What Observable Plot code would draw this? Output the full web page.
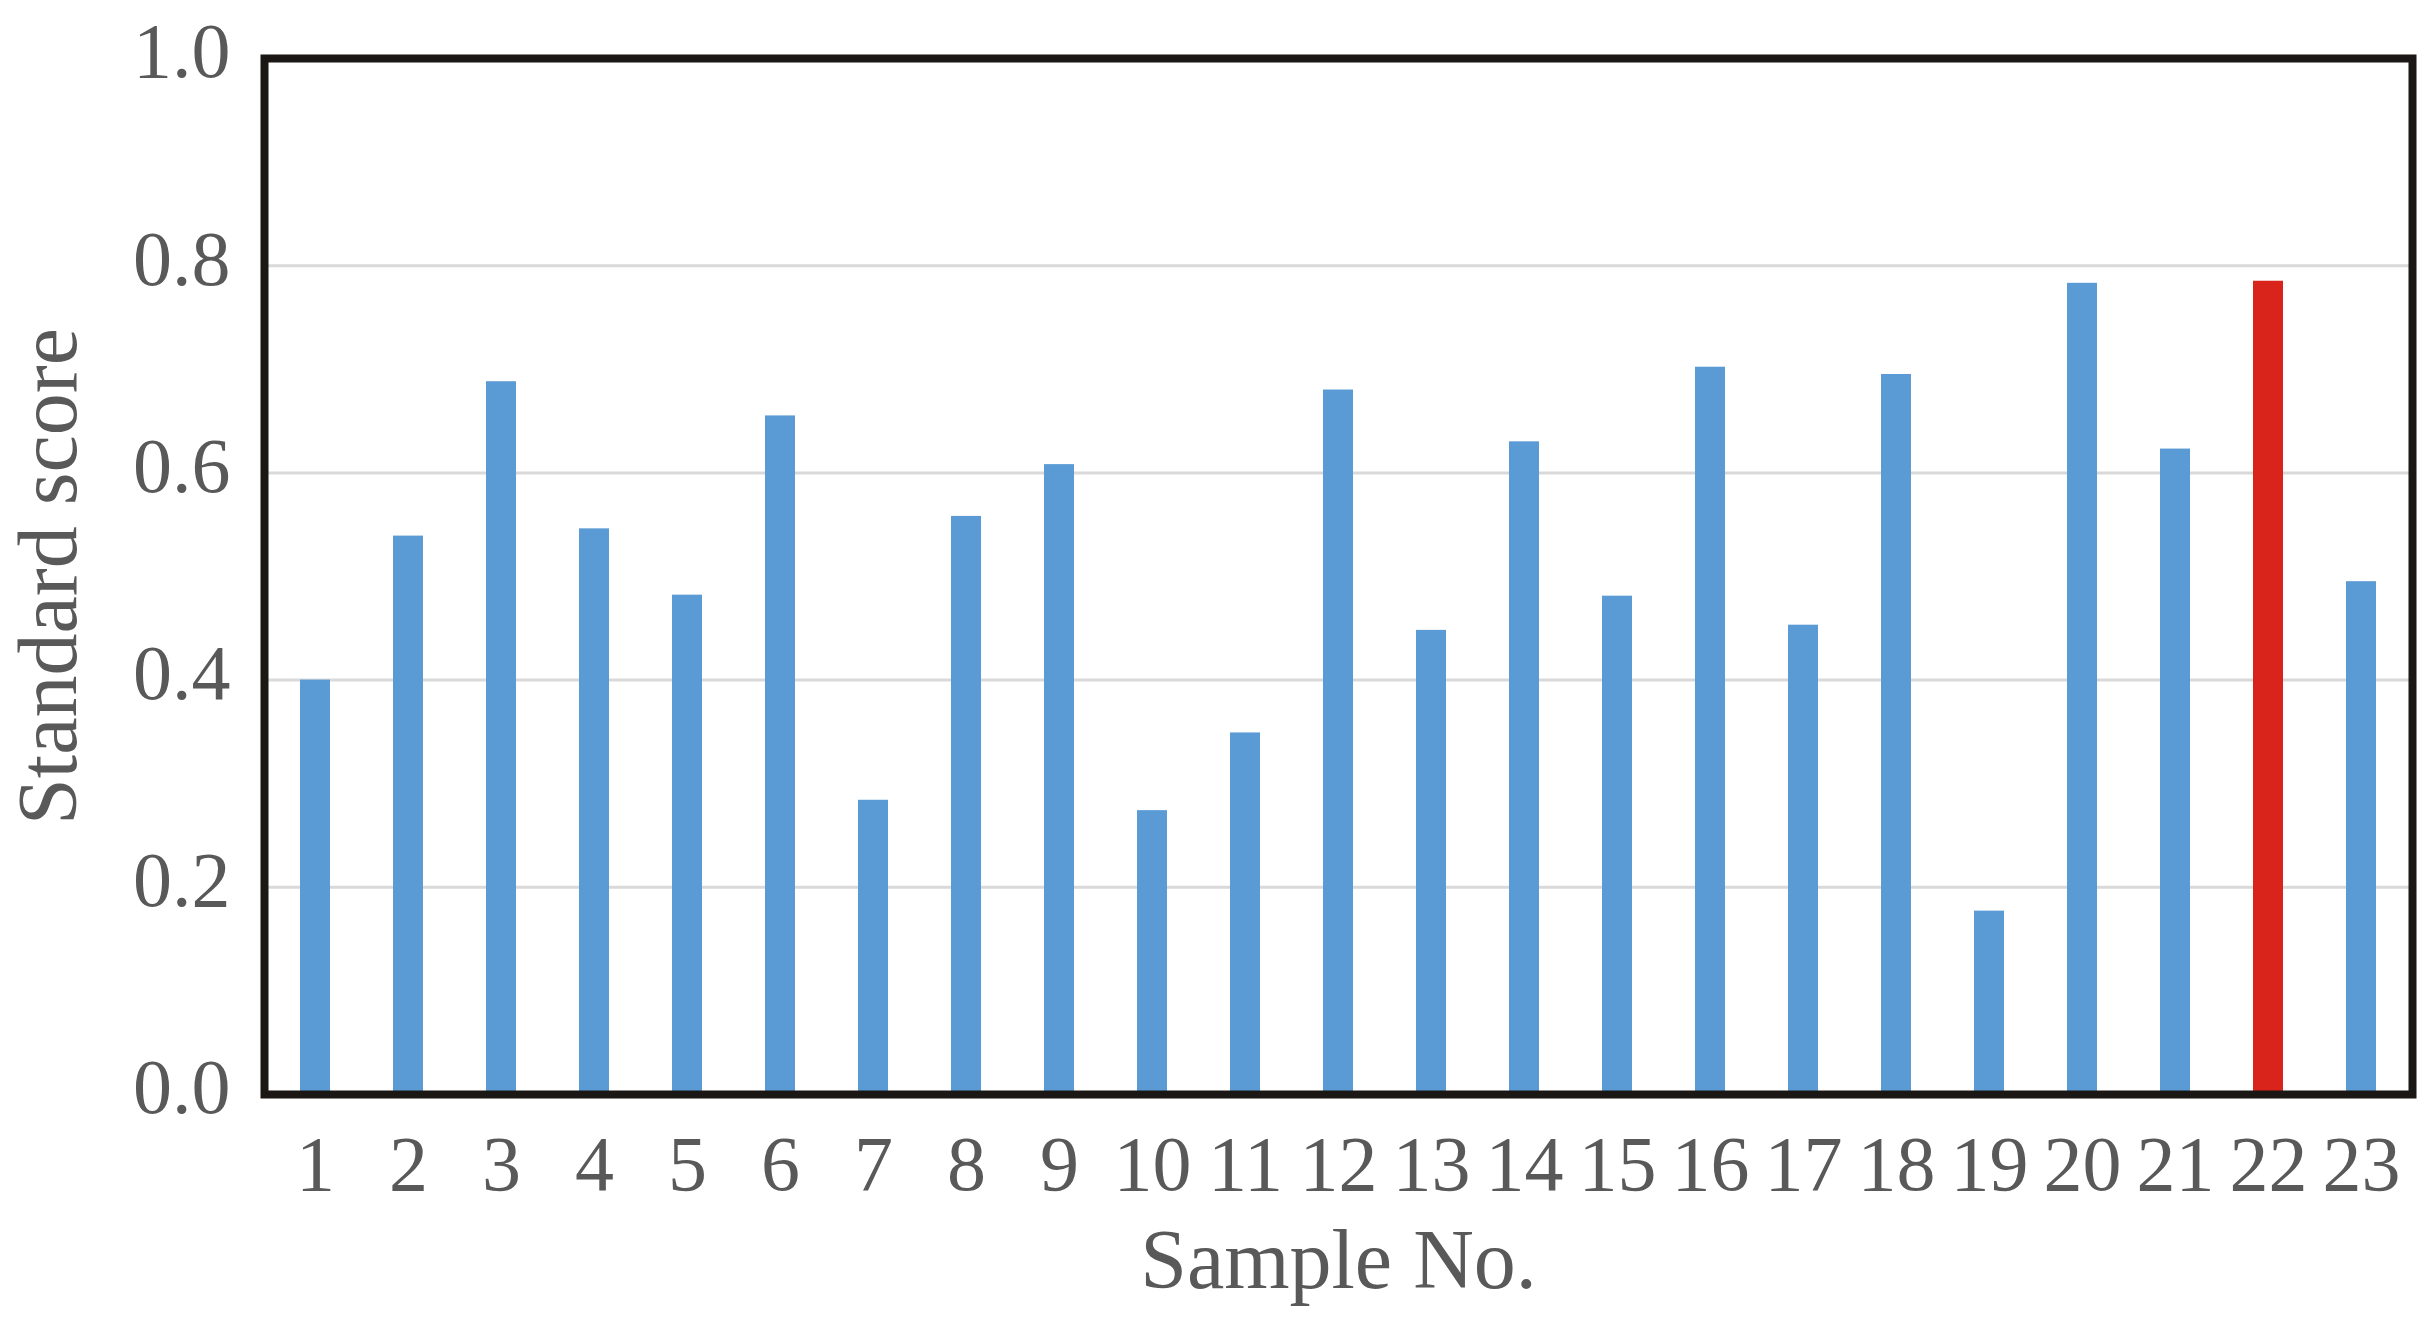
<!DOCTYPE html>
<html>
<head>
<meta charset="utf-8">
<script src="https://cdn.jsdelivr.net/npm/d3@7"></script>
<script src="https://cdn.jsdelivr.net/npm/@observablehq/plot@0.6"></script>
<style>
  html, body { margin: 0; padding: 0; background: #ffffff; }
  #chart svg { display: block; }
</style>
</head>
<body>
<div id="chart"></div>
<script>
// Data
const samples = [1, 2, 3, 4, 5, 6, 7, 8, 9, 10, 11, 12, 13, 14, 15, 16, 17, 18, 19, 20, 21, 22, 23];
const scores = [0.400, 0.539, 0.688, 0.546, 0.482, 0.655, 0.284, 0.558, 0.608, 0.274, 0.349, 0.680,
                0.448, 0.630, 0.481, 0.702, 0.453, 0.695, 0.177, 0.783, 0.623, 0.785, 0.495];
const highlighted = 22;
const yTicks = [0, 0.2, 0.4, 0.6, 0.8, 1.0];
const gridTicks = [0.2, 0.4, 0.6, 0.8];
const xTitle = "Sample No.";
const yTitle = "Standard score";

const data = samples.map((s, i) => ({sample: s, score: scores[i]}));

const textColor = "#595959";
const barBlue = "#5b9bd5";
const barRed = "#d8241b";
const font = "'Liberation Serif', 'Times New Roman', serif";

const chart = Plot.plot({
  width: 2433,
  height: 1324,
  marginLeft: 264,
  marginRight: 21,
  marginTop: 58,
  marginBottom: 230,
  style: {fontFamily: font, color: textColor, background: "#ffffff"},
  x: {type: "band", domain: samples, paddingInner: 0.68, paddingOuter: 0.34, label: null},
  y: {domain: [0, 1], label: null},
  color: {type: "identity"},
  marks: [
    Plot.gridY(gridTicks, {stroke: "#d9d9d9", strokeWidth: 3, strokeOpacity: 1}),
    Plot.barY(data, {
      x: "sample",
      y: "score",
      fill: d => d.sample === highlighted ? barRed : barBlue
    }),
    Plot.frame({stroke: "#1b1714", strokeWidth: 8}),
    Plot.axisY(yTicks, {
      tickSize: 0,
      tickPadding: 34,
      tickFormat: d3.format(".1f"),
      fontSize: 78,
      dy: -6,
      label: null,
      fill: textColor
    }),
    Plot.axisX(samples, {
      tickSize: 0,
      tickPadding: 40,
      fontSize: 78,
      label: null,
      fill: textColor
    }),
    Plot.text([yTitle], {
      text: d => d,
      frameAnchor: "left",
      textAnchor: "middle",
      rotate: -90,
      lineAnchor: "bottom",
      dx: -189,
      fontSize: 84,
      fill: textColor
    }),
    Plot.text([xTitle], {
      text: d => d,
      frameAnchor: "bottom",
      textAnchor: "middle",
      lineAnchor: "bottom",
      dy: 193,
      fontSize: 84,
      fill: textColor
    })
  ]
});

document.getElementById("chart").appendChild(chart);
</script>
</body>
</html>
